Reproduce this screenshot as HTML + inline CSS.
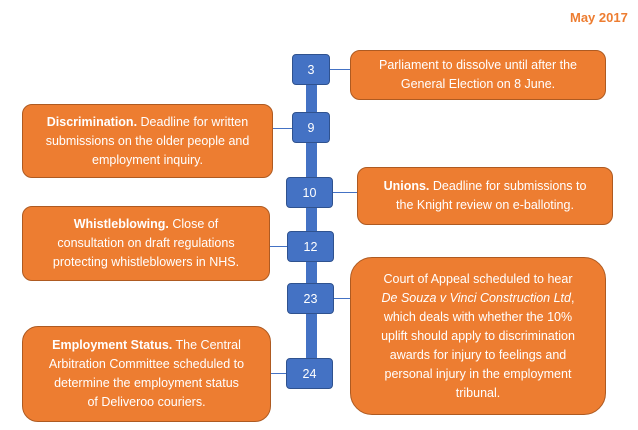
<!DOCTYPE html>
<html><head><style>
body{margin:0;width:638px;height:430px;background:#fff;position:relative;overflow:hidden;font-family:"Liberation Sans",sans-serif}
.o{position:absolute;background:#ED7D31;border:1px solid #AE5A21;border-radius:10px;color:#fff;font-size:12.5px;line-height:19px;text-align:center;display:flex;align-items:center;justify-content:center;white-space:nowrap;box-sizing:border-box}
.n{position:absolute;background:#4472C4;border:1px solid #2F528F;border-radius:4px;color:#fff;font-size:12.5px;display:flex;align-items:center;justify-content:center;box-sizing:border-box}
.l{position:absolute;height:1px;background:#4472C4}
</style></head><body>
<div style="position:absolute;left:570px;top:10px;color:#ED7D31;font-weight:bold;font-size:13px;white-space:nowrap">May 2017</div>
<div style="position:absolute;left:306px;top:60px;width:11px;height:325px;background:#4472C4"></div>
<div class="l" style="left:330px;top:69px;width:20px"></div>
<div class="l" style="left:273px;top:128px;width:19px"></div>
<div class="l" style="left:333px;top:192px;width:24px"></div>
<div class="l" style="left:270px;top:246px;width:17px"></div>
<div class="l" style="left:334px;top:298px;width:16px"></div>
<div class="l" style="left:271px;top:373px;width:15px"></div>
<div class="n" style="left:292px;top:54px;width:38px;height:31px">3</div>
<div class="n" style="left:292px;top:112px;width:38px;height:31px">9</div>
<div class="n" style="left:286px;top:177px;width:47px;height:31px">10</div>
<div class="n" style="left:287px;top:231px;width:47px;height:31px">12</div>
<div class="n" style="left:287px;top:283px;width:47px;height:31px">23</div>
<div class="n" style="left:286px;top:358px;width:47px;height:31px">24</div>
<div class="o" style="left:350px;top:50px;width:256px;height:50px">Parliament to dissolve until after the<br>General Election on 8 June.</div>
<div class="o" style="left:22px;top:104px;width:251px;height:74px"><div><b>Discrimination.</b> Deadline for written<br>submissions on the older people and<br>employment inquiry.</div></div>
<div class="o" style="left:357px;top:167px;width:256px;height:58px"><div><b>Unions.</b> Deadline for submissions to<br>the Knight review on e-balloting.</div></div>
<div class="o" style="left:22px;top:206px;width:248px;height:75px"><div><b>Whistleblowing.</b> Close of<br>consultation on draft regulations<br>protecting whistleblowers in NHS.</div></div>
<div class="o" style="left:350px;top:257px;width:256px;height:158px;border-radius:22px"><div>Court of Appeal scheduled to hear<br><i>De Souza v Vinci Construction Ltd</i>,<br>which deals with whether the 10%<br>uplift should apply to discrimination<br>awards for injury to feelings and<br>personal injury in the employment<br>tribunal.</div></div>
<div class="o" style="left:22px;top:326px;width:249px;height:96px;border-radius:16px"><div><b>Employment Status.</b> The Central<br>Arbitration Committee scheduled to<br>determine the employment status<br>of Deliveroo couriers.</div></div>
</body></html>
